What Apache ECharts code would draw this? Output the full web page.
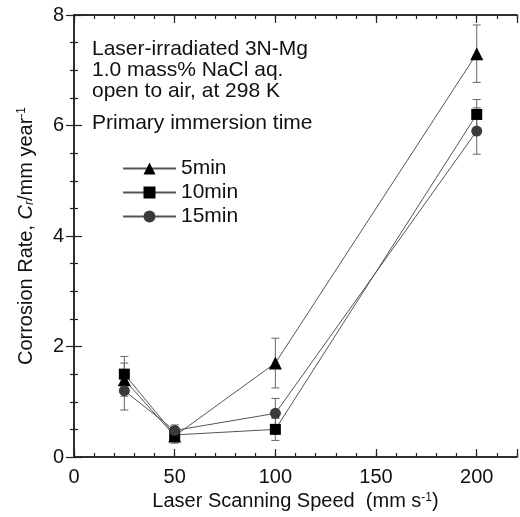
<!DOCTYPE html>
<html>
<head>
<meta charset="utf-8">
<script src="https://cdn.jsdelivr.net/npm/echarts@6/dist/echarts.min.js"></script>
<style>
  html, body { margin: 0; padding: 0; background: #fff; }
  #chart { width: 520px; height: 517px; }
</style>
</head>
<body>
<div id="chart"></div>
<script>
  // scanning speed (mm/s)
  let speeds = [25, 50, 100, 200];
  // corrosion rate per primary immersion time
  let rate5 = [1.40, 0.38, 1.70, 7.30];
  let rate10 = [1.50, 0.40, 0.50, 6.20];
  let rate15 = [1.20, 0.48, 0.79, 5.90];
  // error bar half width
  let err5 = [0.30, 0.13, 0.45, 0.52];
  let err10 = [0.32, 0.10, 0.20, 0.27];
  let err15 = [0.35, 0.10, 0.27, 0.42];
  let seriesNames = ['5min', '10min', '15min'];
  let xTicks = [0, 50, 100, 150, 200];

  let font = 'Liberation Sans, Arial, sans-serif';

  function pairs(vals) {
    return speeds.map(function (s, i) { return [s, vals[i]]; });
  }
  function errData(vals, errs) {
    return speeds.map(function (s, i) { return [s, vals[i] - errs[i], vals[i] + errs[i]]; });
  }
  // 误差棒
  function errorSeries(vals, errs) {
    return {
      type: 'custom',
      silent: true,
      z: 1,
      data: errData(vals, errs),
      renderItem: function (params, api) {
        let lo = api.coord([api.value(0), api.value(1)]);
        let hi = api.coord([api.value(0), api.value(2)]);
        let w = 4;
        let st = { stroke: '#666', lineWidth: 1 };
        return {
          type: 'group',
          children: [
            { type: 'line', shape: { x1: lo[0], y1: lo[1], x2: hi[0], y2: hi[1] }, style: st },
            { type: 'line', shape: { x1: lo[0] - w, y1: lo[1], x2: lo[0] + w, y2: lo[1] }, style: st },
            { type: 'line', shape: { x1: hi[0] - w, y1: hi[1], x2: hi[0] + w, y2: hi[1] }, style: st }
          ]
        };
      }
    };
  }
  function lineSeries(name, vals, symbol, size, color) {
    return {
      name: name,
      type: 'line',
      z: 3,
      data: pairs(vals),
      symbol: symbol,
      symbolSize: size,
      showAllSymbol: true,
      lineStyle: { color: '#555', width: 1 },
      itemStyle: { color: color, borderWidth: 0 },
      emphasis: { disabled: true }
    };
  }

  let axisLine = { show: true, lineStyle: { color: '#222', width: 1.5 } };
  function xAx(position, interval, tickLen, labels) {
    return {
      type: 'value', position: position, min: 0, max: 220, interval: interval,
      axisLine: axisLine,
      axisTick: { show: true, inside: true, length: tickLen, lineStyle: { color: '#222', width: 1.2 } },
      axisLabel: {
        show: labels, margin: 10, color: '#111', fontSize: 20, fontFamily: font,
        formatter: function (v) { return xTicks.indexOf(v) >= 0 ? String(v) : ''; }
      },
      splitLine: { show: false }
    };
  }
  function yAx(position, labels) {
    return {
      type: 'value', position: position, min: 0, max: 8, interval: 2,
      axisLine: axisLine,
      axisTick: { show: true, inside: true, length: 8, lineStyle: { color: '#222', width: 1.2 } },
      minorTick: { show: true, splitNumber: 4, length: 4, lineStyle: { color: '#222', width: 1.2 } },
      axisLabel: { show: labels, margin: 10, color: '#111', fontSize: 20, fontFamily: font },
      splitLine: { show: false }
    };
  }

  let xAxes = [xAx('bottom', 50, 8, true), xAx('bottom', 10, 4, false), xAx('top', 50, 8, false), xAx('top', 10, 4, false)];
  xAxes[0].name = '{a|Laser Scanning Speed  (mm s}{sup|-1}{a|)}';
  xAxes[0].nameLocation = 'middle';
  xAxes[0].nameGap = 30;
  xAxes[0].nameTextStyle = {
    rich: {
      a: { fontSize: 20, fontFamily: font, color: '#111' },
      sup: { fontSize: 12, fontFamily: font, color: '#111', verticalAlign: 'top', padding: [0, 0, 8, 0] }
    }
  };
  let yAxes = [yAx('left', true), yAx('right', false)];
  yAxes[0].name = '{a|Corrosion Rate, }{i|C}{sub|r}{a|/mm year}{sup|-1}';
  yAxes[0].nameLocation = 'middle';
  yAxes[0].nameGap = 38;
  yAxes[0].nameRotate = 90;
  yAxes[0].nameTextStyle = {
    rich: {
      a: { fontSize: 20, fontFamily: font, color: '#111' },
      i: { fontSize: 20, fontFamily: font, color: '#111', fontStyle: 'italic' },
      sub: { fontSize: 12, fontFamily: font, color: '#111', fontStyle: 'italic', padding: [8, 0, 0, 0] },
      sup: { fontSize: 12, fontFamily: font, color: '#111', padding: [0, 0, 8, 0] }
    }
  };

  let option = {
    animation: false,
    backgroundColor: '#fff',
    grid: { left: 74, right: 3, top: 15, bottom: 60, containLabel: false },
    xAxis: xAxes,
    yAxis: yAxes,
    legend: {
      data: seriesNames,
      orient: 'vertical',
      left: 117,
      top: 153,
      itemWidth: 53,
      itemHeight: 15,
      itemGap: 3,
      textStyle: { fontSize: 21, fontFamily: font, color: '#111' },
      selectedMode: false
    },
    graphic: [
      {
        type: 'text', left: 92, top: 39,
        style: {
          text: 'Laser-irradiated 3N-Mg\n1.0 mass% NaCl aq.\nopen to air, at 298 K',
          font: '21px ' + font, fill: '#111', lineHeight: 21
        }
      },
      {
        type: 'text', left: 92, top: 113,
        style: { text: 'Primary immersion time', font: '21px ' + font, fill: '#111', lineHeight: 21 }
      }
    ],
    series: [
      errorSeries(rate5, err5),
      errorSeries(rate10, err10),
      errorSeries(rate15, err15),
      lineSeries(seriesNames[0], rate5, 'triangle', 13, '#000'),
      lineSeries(seriesNames[1], rate10, 'rect', 11, '#000'),
      lineSeries(seriesNames[2], rate15, 'circle', 11, '#3a3a3a')
    ]
  };

  let myChart = echarts.init(document.getElementById('chart'));
  myChart.setOption(option);
</script>
</body>
</html>
